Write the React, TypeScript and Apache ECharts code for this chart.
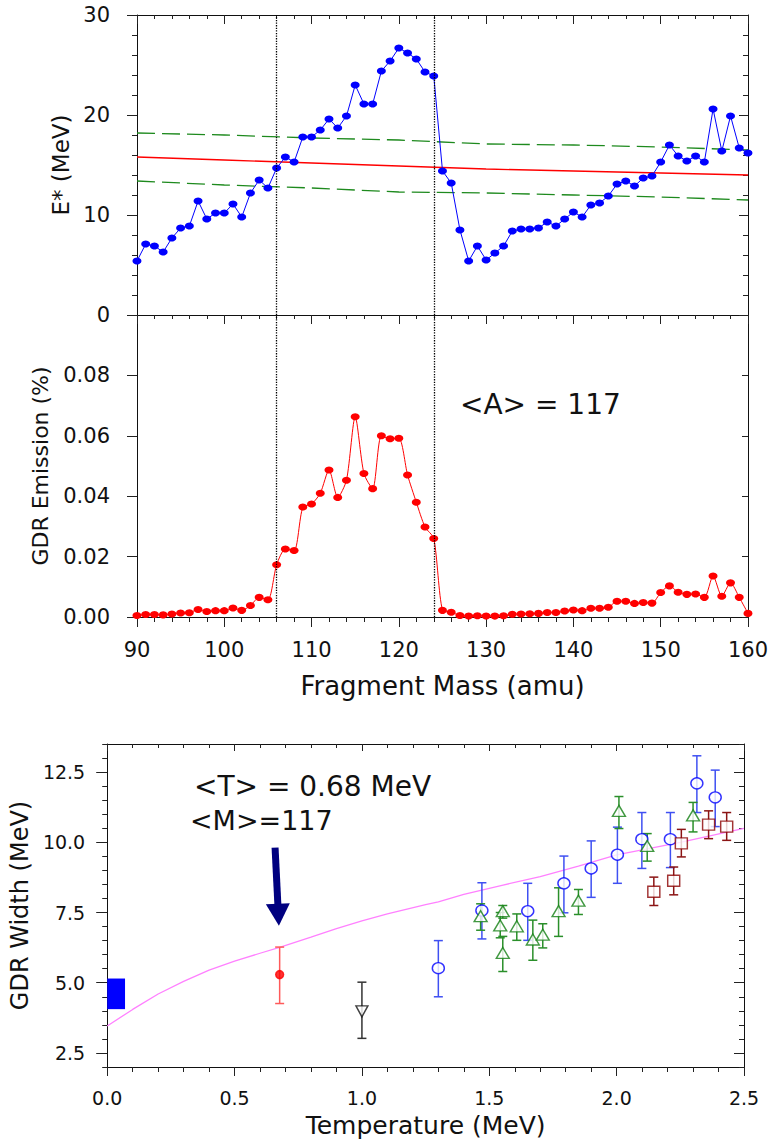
import React, { useEffect, useRef } from "react";
import * as echarts from "echarts";

const FONT = '"DejaVu Sans", Verdana, sans-serif';
const INK = "#111111";

// ---------- Upper two panels: fragment mass ----------
const fragmentMass = [
  90, 91, 92, 93, 94, 95, 96, 97, 98, 99, 100, 101, 102, 103, 104, 105, 106, 107,
  108, 109, 110, 111, 112, 113, 114, 115, 116, 117, 118, 119, 120, 121, 122, 123,
  124, 125, 126, 127, 128, 129, 130, 131, 132, 133, 134, 135, 136, 137, 138, 139,
  140, 141, 142, 143, 144, 145, 146, 147, 148, 149, 150, 151, 152, 153, 154, 155,
  156, 157, 158, 159, 160,
];

const excitationEnergy = [
  5.4, 7.1, 6.9, 6.3, 7.7, 8.7, 8.9, 11.4, 9.6, 10.2, 10.2, 11.1, 9.8, 12.2, 13.5,
  12.7, 14.7, 15.8, 15.3, 17.8, 17.8, 18.5, 19.6, 18.7, 19.9, 23.0, 21.1, 21.1, 24.4,
  25.4, 26.7, 26.2, 25.6, 24.3, 23.9, 14.4, 13.2, 8.5, 5.4, 6.9, 5.5, 6.2, 6.9, 8.4,
  8.6, 8.6, 8.7, 9.3, 8.9, 9.6, 10.3, 9.8, 11.0, 11.2, 11.9, 13.1, 13.4, 12.9, 13.7,
  13.9, 15.3, 17.0, 15.9, 15.4, 15.9, 15.3, 20.6, 16.4, 19.9, 16.7, 16.2,
];

const gdrEmission = [
  0.0005, 0.0008, 0.0008, 0.0007, 0.001, 0.0013, 0.0014, 0.0025, 0.0018, 0.0021,
  0.0021, 0.003, 0.0022, 0.0038, 0.0065, 0.0057, 0.0173, 0.0225, 0.022, 0.0364,
  0.0374, 0.041, 0.0487, 0.0396, 0.0453, 0.0663, 0.0475, 0.0425, 0.06, 0.059,
  0.0592, 0.047, 0.038, 0.0298, 0.026, 0.0022, 0.0016, 0.0005, 0.0003, 0.0004,
  0.0003, 0.0003, 0.0004, 0.0009, 0.001, 0.0011, 0.0012, 0.0015, 0.0015, 0.002,
  0.0023, 0.0021, 0.0029, 0.0029, 0.0032, 0.0052, 0.0052, 0.0045, 0.0048, 0.0046,
  0.0081, 0.0103, 0.0082, 0.0075, 0.0076, 0.0065, 0.0136, 0.0069, 0.0113, 0.0065,
  0.0012,
];

const fitMass = [90, 100, 110, 120, 130, 140, 150, 160];
const fitMean = [15.8, 15.5, 15.2, 14.9, 14.6, 14.4, 14.2, 14.0];
const fitUpper = [18.2, 18.0, 17.7, 17.5, 17.1, 17.0, 16.8, 16.5];
const fitLower = [13.4, 13.0, 12.7, 12.3, 12.2, 12.0, 11.8, 11.5];

const gateMasses = [106, 124];

// ---------- Lower panel: GDR width vs temperature ----------
const widthCurveT = [0, 0.1, 0.2, 0.3, 0.4, 0.5, 0.6, 0.68, 0.8, 0.9, 1.0, 1.1, 1.25, 1.3, 1.4, 1.55, 1.7, 1.85, 2.0, 2.25, 2.5];
const widthCurveW = [3.46, 4.05, 4.6, 5.05, 5.45, 5.77, 6.05, 6.27, 6.62, 6.93, 7.2, 7.45, 7.78, 7.88, 8.15, 8.47, 8.78, 9.15, 9.55, 10.0, 10.5];

// [Tmin, Tmax, Wlow, Whigh]
const groundStateBox = [[0, 0.07, 4.06, 5.15]];

// [T, W, Wlow, Whigh]
const thisWork = [[0.677, 5.29, 4.26, 6.27]];
const downTriangles = [[1.0, 3.98, 3.02, 5.02]];
const openCircles = [
  [1.3, 5.52, 4.5, 6.5],
  [1.471, 7.57, 6.56, 8.56],
  [1.651, 7.55, 6.51, 8.54],
  [1.793, 8.54, 7.49, 9.51],
  [1.9, 9.07, 8.04, 10.05],
  [2.003, 9.56, 8.54, 10.54],
  [2.099, 10.11, 9.07, 11.06],
  [2.211, 10.11, 9.1, 11.06],
  [2.315, 12.1, 11.06, 13.08],
  [2.387, 11.6, 10.56, 12.57],
];
const openTriangles = [
  [1.466, 7.37, 6.87, 7.81],
  [1.553, 7.55, 7.3, 7.75],
  [1.543, 7.04, 6.6, 7.5],
  [1.553, 6.06, 5.4, 6.65],
  [1.608, 7.01, 6.51, 7.45],
  [1.671, 6.54, 5.8, 7.23],
  [1.71, 6.71, 6.24, 7.1],
  [1.772, 7.55, 6.65, 8.38],
  [1.85, 7.92, 7.43, 8.32],
  [2.009, 11.12, 10.49, 11.63],
  [2.12, 9.87, 9.33, 10.31],
  [2.3, 10.96, 10.37, 11.42],
];
const openSquares = [
  [2.146, 8.24, 7.75, 8.76],
  [2.224, 8.63, 8.13, 9.12],
  [2.254, 9.96, 9.48, 10.46],
  [2.361, 10.63, 10.13, 11.12],
  [2.432, 10.56, 10.07, 11.06],
];

const widthMajorTicks = [2.5, 5, 7.5, 10, 12.5];
const arrowFrom = [0.659, 9.81];
const arrowTo = [0.672, 7.42];

// ---------- helpers ----------
const lineStyle = { color: INK, width: 1 };
const tickStyle = { color: "#222", width: 1 };

function zip(xs: number[], ys: number[]) {
  return xs.map((x, i) => [x, ys[i]]);
}

function errorBarRender(color: string) {
  return (params: any, api: any) => {
    const x = api.value(0);
    const pLo = api.coord([x, api.value(1)]);
    const pHi = api.coord([x, api.value(2)]);
    const hw = 4.5;
    const style = { stroke: color, lineWidth: 1.5, fill: "none" };
    return {
      type: "group",
      children: [
        { type: "line", shape: { x1: pLo[0], y1: pLo[1], x2: pHi[0], y2: pHi[1] }, style },
        { type: "line", shape: { x1: pLo[0] - hw, y1: pLo[1], x2: pLo[0] + hw, y2: pLo[1] }, style },
        { type: "line", shape: { x1: pHi[0] - hw, y1: pHi[1], x2: pHi[0] + hw, y2: pHi[1] }, style },
      ],
    };
  };
}

function errorSeries(rows: number[][], color: string) {
  return {
    type: "custom",
    xAxisIndex: 4,
    yAxisIndex: 4,
    z: 3,
    renderItem: errorBarRender(color),
    encode: { x: 0, y: [1, 2] },
    data: rows.map((r) => [r[0], r[2], r[3]]),
  };
}

function markerSeries(rows: number[][], symbol: string, size: number[], stroke: string, fill: string, rotate = 0) {
  return {
    type: "scatter",
    xAxisIndex: 4,
    yAxisIndex: 4,
    z: 5,
    symbol,
    symbolSize: size,
    symbolRotate: rotate,
    itemStyle: { color: fill, borderColor: stroke, borderWidth: 1.4 },
    data: rows.map((r) => [r[0], r[1]]),
  };
}

const gateMarkLine = {
  silent: true,
  symbol: ["none", "none"],
  label: { show: false },
  lineStyle: { type: "dotted", color: "#000", width: 1.3 },
  data: gateMasses.map((m) => ({ xAxis: m })),
};

function buildOption(): any {
  const labelFont = { fontFamily: FONT, color: INK };
  return {
    animation: false,
    backgroundColor: "#ffffff",
    grid: [
      { left: 137, top: 15, width: 611, height: 300 },
      { left: 137, top: 315, width: 611, height: 302 },
      { left: 104, top: 744, width: 640, height: 323 },
    ],
    xAxis: [
      {
        type: "value", gridIndex: 0, position: "bottom", min: 90, max: 160, interval: 10,
        axisLine: { show: true, onZero: false, lineStyle },
        axisTick: { show: false }, axisLabel: { show: false }, splitLine: { show: false },
      },
      {
        type: "value", gridIndex: 0, position: "top", min: 90, max: 160, interval: 10,
        axisLine: { show: true, onZero: false, lineStyle },
        axisTick: { show: true, inside: true, length: 9, lineStyle: tickStyle },
        minorTick: { show: true, splitNumber: 5, length: 4, lineStyle: tickStyle },
        axisLabel: { show: false }, splitLine: { show: false },
      },
      {
        type: "value", gridIndex: 1, position: "bottom", min: 90, max: 160, interval: 10,
        axisLine: { show: true, onZero: false, lineStyle },
        axisTick: { show: true, length: 10, lineStyle: tickStyle },
        minorTick: { show: true, splitNumber: 5, length: 5, lineStyle: tickStyle },
        axisLabel: { ...labelFont, fontSize: 21, margin: 22 },
        splitLine: { show: false },
        name: "Fragment Mass (amu)", nameLocation: "middle", nameGap: 56,
        nameTextStyle: { ...labelFont, fontSize: 26 },
      },
      {
        type: "value", gridIndex: 1, position: "top", min: 90, max: 160, interval: 10,
        axisLine: { show: true, onZero: false, lineStyle },
        axisTick: { show: true, inside: true, length: 9, lineStyle: tickStyle },
        minorTick: { show: true, splitNumber: 5, length: 4, lineStyle: tickStyle },
        axisLabel: { show: false }, splitLine: { show: false },
      },
      {
        type: "value", gridIndex: 2, position: "bottom", min: 0, max: 2.5, interval: 0.5,
        axisLine: { show: true, onZero: false, lineStyle },
        axisTick: { show: true, length: 9, lineStyle: tickStyle },
        minorTick: { show: true, splitNumber: 5, length: 5, lineStyle: tickStyle },
        axisLabel: { ...labelFont, fontSize: 19, margin: 21, formatter: (v: number) => v.toFixed(1) },
        splitLine: { show: false },
        name: "Temperature (MeV)", nameLocation: "middle", nameGap: 46,
        nameTextStyle: { ...labelFont, fontSize: 25 },
      },
      {
        type: "value", gridIndex: 2, position: "top", min: 0, max: 2.5, interval: 0.5,
        axisLine: { show: true, onZero: false, lineStyle },
        axisTick: { show: true, inside: true, length: 7, lineStyle: tickStyle },
        minorTick: { show: true, splitNumber: 5, length: 4, lineStyle: tickStyle },
        axisLabel: { show: false }, splitLine: { show: false },
      },
    ],
    yAxis: [
      {
        type: "value", gridIndex: 0, position: "left", min: 0, max: 30, interval: 10,
        axisLine: { show: true, onZero: false, lineStyle },
        axisTick: { show: true, length: 10, lineStyle: tickStyle },
        minorTick: { show: true, splitNumber: 5, length: 5, lineStyle: tickStyle },
        axisLabel: { ...labelFont, fontSize: 21, margin: 27 },
        splitLine: { show: false },
        name: "E* (MeV)", nameLocation: "middle", nameGap: 62,
        nameTextStyle: { ...labelFont, fontSize: 23 },
      },
      {
        type: "value", gridIndex: 0, position: "right", min: 0, max: 30, interval: 10,
        axisLine: { show: true, onZero: false, lineStyle },
        axisTick: { show: true, inside: true, length: 9, lineStyle: tickStyle },
        minorTick: { show: true, splitNumber: 5, length: 5, lineStyle: tickStyle },
        axisLabel: { show: false }, splitLine: { show: false },
      },
      {
        type: "value", gridIndex: 1, position: "left", min: 0, max: 0.1, interval: 0.02,
        axisLine: { show: true, onZero: false, lineStyle },
        axisTick: { show: true, length: 10, lineStyle: tickStyle },
        axisLabel: {
          ...labelFont, fontSize: 21, margin: 27,
          formatter: (v: number) => (v > 0.095 ? "" : v.toFixed(2)),
        },
        splitLine: { show: false },
        name: "GDR Emission (%)", nameLocation: "middle", nameGap: 86,
        nameTextStyle: { ...labelFont, fontSize: 22 },
      },
      {
        type: "value", gridIndex: 1, position: "right", min: 0, max: 0.1, interval: 0.02,
        axisLine: { show: true, onZero: false, lineStyle },
        axisTick: { show: true, inside: true, length: 6, lineStyle: tickStyle },
        axisLabel: { show: false }, splitLine: { show: false },
      },
      {
        type: "value", gridIndex: 2, position: "left", min: 2, max: 13.5, interval: 0.5,
        axisLine: { show: true, onZero: false, lineStyle },
        axisTick: { show: true, length: 5, lineStyle: tickStyle },
        axisLabel: {
          ...labelFont, fontSize: 19, margin: 22,
          formatter: (v: number) => {
            const k = v / 2.5;
            return Math.abs(k - Math.round(k)) < 1e-6 ? v.toFixed(1) : "";
          },
        },
        splitLine: { show: false },
        name: "GDR Width (MeV)", nameLocation: "middle", nameGap: 70,
        nameTextStyle: { ...labelFont, fontSize: 24 },
      },
      {
        type: "value", gridIndex: 2, position: "left", min: 2, max: 13.5,
        axisLine: { show: false, onZero: false },
        axisTick: { show: true, length: 11, lineStyle: tickStyle, customValues: widthMajorTicks },
        axisLabel: { show: false }, splitLine: { show: false },
      },
      {
        type: "value", gridIndex: 2, position: "right", min: 2, max: 13.5, interval: 0.5,
        axisLine: { show: true, onZero: false, lineStyle },
        axisTick: { show: true, inside: true, length: 5, lineStyle: tickStyle },
        axisLabel: { show: false }, splitLine: { show: false },
      },
      {
        type: "value", gridIndex: 2, position: "right", min: 2, max: 13.5,
        axisLine: { show: false, onZero: false },
        axisTick: { show: true, inside: true, length: 10, lineStyle: tickStyle, customValues: widthMajorTicks },
        axisLabel: { show: false }, splitLine: { show: false },
      },
    ],
    series: [
      {
        type: "line", xAxisIndex: 0, yAxisIndex: 0, z: 4,
        data: zip(fragmentMass, excitationEnergy),
        symbol: "circle", symbolSize: [9, 7],
        itemStyle: { color: "#0000ff" },
        lineStyle: { color: "#0000ff", width: 1 },
        markLine: gateMarkLine,
      },
      {
        type: "line", xAxisIndex: 0, yAxisIndex: 0, z: 3, showSymbol: false,
        data: zip(fitMass, fitMean),
        lineStyle: { color: "#ff0000", width: 1.3 },
      },
      {
        type: "line", xAxisIndex: 0, yAxisIndex: 0, z: 3, showSymbol: false,
        data: zip(fitMass, fitUpper),
        lineStyle: { color: "#1e8a1e", width: 1.3, type: [18, 7] },
      },
      {
        type: "line", xAxisIndex: 0, yAxisIndex: 0, z: 3, showSymbol: false,
        data: zip(fitMass, fitLower),
        lineStyle: { color: "#1e8a1e", width: 1.3, type: [18, 7] },
      },
      {
        type: "line", xAxisIndex: 2, yAxisIndex: 2, z: 4, smooth: 0.25,
        data: zip(fragmentMass, gdrEmission),
        symbol: "circle", symbolSize: [9, 7],
        itemStyle: { color: "#ff0000" },
        lineStyle: { color: "#ff0000", width: 1 },
        markLine: gateMarkLine,
      },
      {
        type: "line", xAxisIndex: 4, yAxisIndex: 4, z: 2, showSymbol: false, smooth: false,
        data: zip(widthCurveT, widthCurveW),
        lineStyle: { color: "#ff80ff", width: 1.3 },
        markLine: {
          silent: true,
          symbol: ["none", "triangle"],
          symbolSize: [24, 22],
          label: { show: false },
          lineStyle: { color: "#000080", width: 7, type: "solid" },
          itemStyle: { color: "#000080" },
          data: [[{ coord: arrowFrom }, { coord: arrowTo }]],
        },
      },
      {
        type: "custom", xAxisIndex: 4, yAxisIndex: 4, z: 3,
        encode: { x: [0, 1], y: [2, 3] },
        data: groundStateBox,
        renderItem: (params: any, api: any) => {
          const p1 = api.coord([api.value(0), api.value(3)]);
          const p2 = api.coord([api.value(1), api.value(2)]);
          return {
            type: "rect",
            shape: { x: p1[0], y: p1[1], width: p2[0] - p1[0], height: p2[1] - p1[1] },
            style: { fill: "#0000ff" },
          };
        },
      },
      errorSeries(thisWork, "#ff5a5a"),
      errorSeries(downTriangles, "#333333"),
      errorSeries(openCircles, "#3f50f2"),
      errorSeries(openTriangles, "#2a8f2a"),
      errorSeries(openSquares, "#8b1414"),
      markerSeries(thisWork, "circle", [8, 8], "#ff0000", "#ff0000"),
      markerSeries(downTriangles, "triangle", [12, 11], "#111111", "#ffffff", 180),
      markerSeries(openCircles, "circle", [12, 11], "#0000ff", "#ffffff"),
      markerSeries(openTriangles, "triangle", [13, 11], "#138013", "#ffffff"),
      markerSeries(openSquares, "rect", [12, 11], "#8b0000", "#ffffff"),
    ],
    graphic: [
      {
        type: "text", x: 460, y: 404, z: 10,
        style: { text: "<A> = 117", fontSize: 28, fontFamily: FONT, fill: INK, verticalAlign: "middle" },
      },
      {
        type: "text", x: 194, y: 786, z: 10,
        style: { text: "<T> = 0.68 MeV", fontSize: 28, fontFamily: FONT, fill: INK, verticalAlign: "middle" },
      },
      {
        type: "text", x: 190, y: 820, z: 10,
        style: { text: "<M>=117", fontSize: 27, fontFamily: FONT, fill: INK, verticalAlign: "middle" },
      },
    ],
  };
}

export default function App() {
  const ref = useRef<HTMLDivElement>(null);
  useEffect(() => {
    document.body.style.margin = "0";
    if (!ref.current) return;
    const chart = echarts.init(ref.current, null, { renderer: "svg" });
    chart.setOption(buildOption());
    return () => chart.dispose();
  }, []);
  return <div ref={ref} style={{ width: 782, height: 1144, background: "#fff" }} />;
}
